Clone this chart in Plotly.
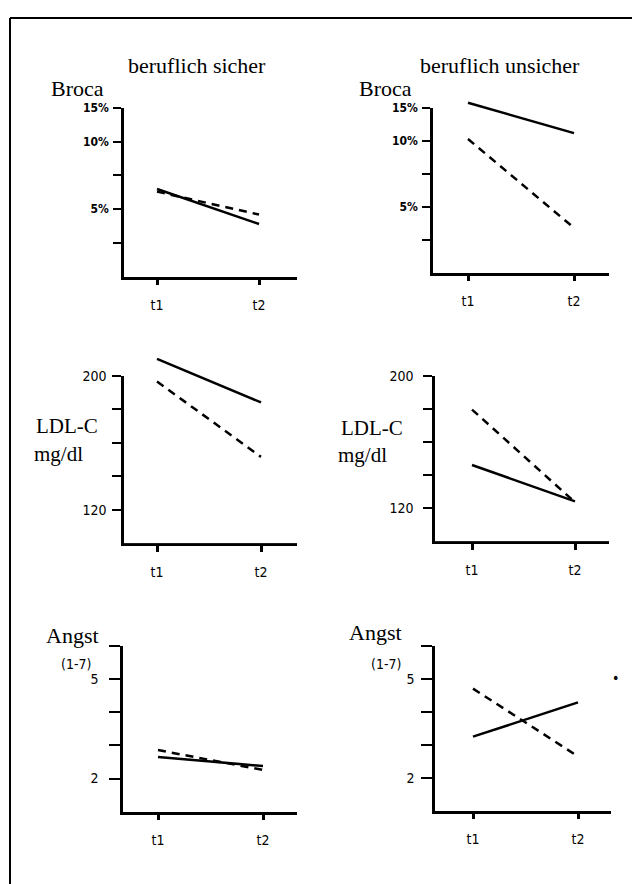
import plotly.graph_objects as go

W, H = 632, 884

# ---------------- data ----------------
time_labels = ["t1", "t2"]
time_x = [1, 2]

# Broca (%), solid / dashed line per group
broca_sicher_solid = [6.5, 3.9]
broca_sicher_dashed = [6.3, 4.6]
broca_unsicher_solid = [12.9, 10.6]
broca_unsicher_dashed = [10.15, 3.4]

# LDL-C (mg/dl)
ldl_sicher_solid = [210, 184]
ldl_sicher_dashed = [196.5, 151.5]
ldl_unsicher_solid = [146, 124]
ldl_unsicher_dashed = [179.5, 123.5]

# Angst (1-7)
angst_sicher_solid = [2.65, 2.38]
angst_sicher_dashed = [2.86, 2.26]
angst_unsicher_solid = [3.25, 4.29]
angst_unsicher_dashed = [4.71, 2.65]

broca_tickvals = [2.5, 5, 7.5, 10, 12.5]
broca_ticktext = ["", "5%", "", "10%", "15%"]
ldl_tickvals = [120, 140, 160, 180, 200]
ldl_ticktext = ["120", "", "", "", "200"]
angst_tickvals = [2, 3, 4, 5, 6]
angst_ticktext = ["2", "", "", "5", ""]

# ---------------- layout geometry (pixels) ----------------
panels = [
    dict(left=124, right=297, t1=157, t2=259, top=101, bottom=271, yr=[0, 12.5],
         tv=broca_tickvals, tt=broca_ticktext, s=broca_sicher_solid, d=broca_sicher_dashed,
         ylen=8, ystand=2, yw="bold", ysize=12),
    dict(left=433, right=609, t1=468, t2=574, top=101, bottom=267, yr=[0, 12.5],
         tv=broca_tickvals, tt=broca_ticktext, s=broca_unsicher_solid, d=broca_unsicher_dashed,
         ylen=8, ystand=2, yw="bold", ysize=12),
    dict(left=124, right=297, t1=157, t2=261, top=371, bottom=540, yr=[100, 200],
         tv=ldl_tickvals, tt=ldl_ticktext, s=ldl_sicher_solid, d=ldl_sicher_dashed,
         ylen=9, ystand=3, yw="normal", ysize=14),
    dict(left=435, right=609, t1=472, t2=575, top=371, bottom=538, yr=[100, 200],
         tv=ldl_tickvals, tt=ldl_ticktext, s=ldl_unsicher_solid, d=ldl_unsicher_dashed,
         ylen=9, ystand=7, yw="normal", ysize=14),
    dict(left=123, right=297, t1=158, t2=263, top=644, bottom=811, yr=[1, 6],
         tv=angst_tickvals, tt=angst_ticktext, s=angst_sicher_solid, d=angst_sicher_dashed,
         ylen=11, ystand=8, yw="normal", ysize=14),
    dict(left=435, right=611, t1=473, t2=578, top=644, bottom=810, yr=[1, 6],
         tv=angst_tickvals, tt=angst_ticktext, s=angst_unsicher_solid, d=angst_unsicher_dashed,
         ylen=11, ystand=4, yw="normal", ysize=14),
]

def fx(p):
    return p / W

def fy(p):
    return 1 - p / H

serif = "Liberation Serif, Times New Roman, serif"
sans_small = "DejaVu Sans Condensed, Arial, sans-serif"

fig = go.Figure()
layout = dict(width=W, height=H, autosize=False,
              margin=dict(l=0, r=0, t=0, b=0, pad=0),
              paper_bgcolor="white", plot_bgcolor="white", showlegend=False)

EXT = 40  # extra pixels above visible axis for data clip area
for i, p in enumerate(panels, start=1):
    unit = p["t2"] - p["t1"]
    xr = [1 - (p["t1"] - p["left"]) / unit, 2 + (p["right"] - p["t2"]) / unit]
    ppu = (p["bottom"] - p["top"]) / (p["yr"][1] - p["yr"][0])
    xa = "xaxis" if i == 1 else f"xaxis{i}"
    ya = "yaxis" if i == 1 else f"yaxis{i}"
    yd = f"yaxis{i + 6}"
    xname = "x" if i == 1 else f"x{i}"
    yname = "y" if i == 1 else f"y{i}"
    layout[xa] = dict(domain=[fx(p["left"]), fx(p["right"])], range=xr, anchor=yname,
                      tickvals=time_x, ticktext=time_labels, ticks="outside", ticklen=6,
                      tickwidth=3, tickcolor="black", showline=True, linewidth=2.5,
                      linecolor="black", showgrid=False, zeroline=False,
                      tickfont=dict(family=sans_small, size=14, color="black"),
                      ticklabelstandoff=8, fixedrange=True)
    layout[ya] = dict(domain=[fy(p["bottom"]), fy(p["top"])], range=p["yr"], anchor=xname,
                      tickvals=p["tv"], ticktext=p["tt"], ticks="outside", ticklen=p["ylen"],
                      tickwidth=2, tickcolor="black", showline=True, linewidth=2.5,
                      linecolor="black", showgrid=False, zeroline=False,
                      tickfont=dict(family=sans_small, size=p["ysize"], color="black",
                                    weight=p["yw"]),
                      ticklabelstandoff=p["ystand"], fixedrange=True)
    layout[yd] = dict(domain=[fy(p["bottom"]), fy(p["top"] - EXT)],
                      range=[p["yr"][0], p["yr"][1] + EXT / ppu], anchor=xname,
                      visible=False, showgrid=False, zeroline=False, fixedrange=True)
    # invisible trace so the visible axis pair forms its own subplot
    fig.add_trace(go.Scatter(x=[None], y=[None], mode="lines", xaxis=xname, yaxis=yname,
                             hoverinfo="skip", line=dict(color="rgba(0,0,0,0)")))
    fig.add_trace(go.Scatter(x=time_x, y=p["s"], mode="lines", xaxis=xname, yaxis=f"y{i + 6}",
                             line=dict(color="black", width=2.5)))
    fig.add_trace(go.Scatter(x=time_x, y=p["d"], mode="lines", xaxis=xname, yaxis=f"y{i + 6}",
                             line=dict(color="black", width=2.5, dash="8px,6px")))

def ann(text, x, y, size, family=serif):
    return dict(text=text, x=fx(x), y=fy(y), xref="paper", yref="paper",
                xanchor="center", yanchor="middle", showarrow=False,
                font=dict(family=family, size=size, color="black"))

layout["annotations"] = [
    ann("beruflich sicher", 197, 58, 22),
    ann("beruflich unsicher", 500, 58, 22),
    ann("Broca", 77, 81, 22),
    ann("Broca", 385, 81, 22),
    ann("LDL-C", 67, 422, 21),
    ann("mg/dl", 58, 450, 21),
    ann("LDL-C", 372, 424, 21),
    ann("mg/dl", 363, 451, 21),
    ann("Angst", 72, 633, 22),
    ann("(1-7)", 76, 662, 14, sans_small),
    ann("Angst", 375, 630, 22),
    ann("(1-7)", 386, 662, 14, sans_small),
    ann("•", 615, 676, 14, sans_small),
]

layout["shapes"] = [
    dict(type="line", xref="paper", yref="paper", x0=fx(10), x1=1, y0=fy(10), y1=fy(10),
         line=dict(color="black", width=2)),
    dict(type="line", xref="paper", yref="paper", x0=fx(10), x1=fx(10), y0=fy(10), y1=0,
         line=dict(color="black", width=2)),
]

fig.update_layout(**layout)
fig.write_html("out.html", config={"displayModeBar": False},
               post_script="document.body.style.margin='0';document.body.style.padding='0';"
                           "document.body.style.overflow='hidden';")
